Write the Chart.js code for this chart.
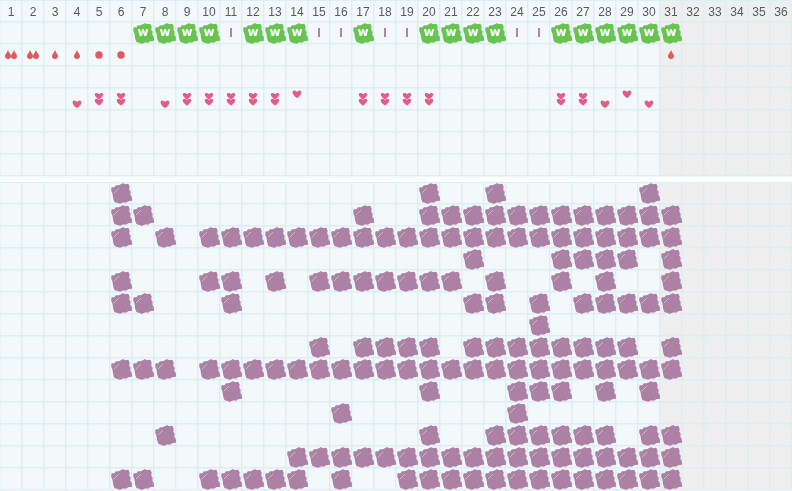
<!DOCTYPE html>
<html>
<head>
<meta charset="utf-8">
<style>
  html, body { margin: 0; padding: 0; background: #fff; }
  canvas { position: absolute; left: 0; }
  #chartTop { top: 0; }
  #chartBottom { top: 182px; }
</style>
<script src="https://cdn.jsdelivr.net/npm/chart.js@4"></script>
</head>
<body>
<canvas id="chartTop" width="792" height="178"></canvas>
<canvas id="chartBottom" width="792" height="309"></canvas>
<script>
//DATA
const days = ['1','2','3','4','5','6','7','8','9','10','11','12','13','14','15','16','17','18','19','20','21','22','23','24','25','26','27','28','29','30','31','32','33','34','35','36'];
const firstGreyDay = '31';

//TOP PANEL, COLUMNS PER SYMBOL
const greenDays = [7,8,9,10,12,13,14,17,20,21,22,23,26,27,28,29,30,31];
const tallyDays = [11,15,16,18,19,24,25];
const oneDropDays = [3,4,31];
const twoDropDays = [1,2];
const roundDays = [5,6];
const heartLowDays = [4,8,28,30];
const heartHighDays = [14,29];
const heartPairDays = [5,6,9,10,11,12,13,17,18,19,20,26,27];

//BOTTOM PANEL, COLUMNS PER ROW
const row0 = [6,20,23,30];
const row1 = [6,7,17,20,21,22,23,24,25,26,27,28,29,30,31];
const row2 = [6,8,10,11,12,13,14,15,16,17,18,19,20,21,22,23,24,25,26,27,28,29,30,31];
const row3 = [22,26,27,28,29,31];
const row4 = [6,10,11,13,15,16,17,18,19,20,21,23,26,28,31];
const row5 = [6,7,11,22,23,25,27,28,29,30,31];
const row6 = [25];
const row7 = [15,17,18,19,20,22,23,24,25,26,27,28,29,31];
const row8 = [6,7,8,10,11,12,13,14,15,16,17,18,19,20,21,22,23,24,25,26,27,28,29,30,31];
const row9 = [11,20,24,25,26,28,30];
const row10 = [16,24];
const row11 = [8,20,23,24,25,26,27,28,30,31];
const row12 = [14,15,16,17,18,19,20,21,22,23,24,25,26,27,28,29,30,31];
const row13 = [6,7,10,11,12,13,14,16,19,20,21,22,23,24,25,26,27,28,29,30,31];
const bottomRows = [row0,row1,row2,row3,row4,row5,row6,row7,row8,row9,row10,row11,row12,row13];

//COLOURS
const gridColor = '#dceff7';
const panelColor = '#f3f8fa';
const greyColor = '#efefef';
const purple = '#ad80a6';
const green = '#69c350';
const red = '#dd5a60';
const pink = '#e55a86';
const tallyColor = '#b5849f';

Chart.defaults.font.family = '"Liberation Sans", Arial, sans-serif';

//SPRITES
function sprite (w, h, draw) {
  const c = document.createElement('canvas');
  c.width = w;
  c.height = h;
  draw(c.getContext('2d'));
  return c;
}

const blobOutline = [[2,6],[5,6],[6,4],[9,4],[11,3],[13,2],[15,3],[18,2.5],[19,5],[18.5,8],[20,10],[19.5,13],[21,15],[21.5,18],[18,18.5],[16,20],[13,19.5],[10,21],[7,20],[5,19.5],[4,17],[3.5,14],[3,11],[2,9]];

function blob (ctx, color) {
  ctx.fillStyle = color;
  ctx.strokeStyle = color;
  ctx.lineWidth = 1.4;
  ctx.lineJoin = 'bevel';
  ctx.beginPath();
  blobOutline.forEach(p => ctx.lineTo(p[0], p[1]));
  ctx.closePath();
  ctx.fill();
  ctx.stroke();
}

const purpleBlob = sprite(24, 24, ctx => {
  ctx.translate(1, 1);
  blob(ctx, purple);
  ctx.strokeStyle = 'rgba(255,255,255,0.4)';
  ctx.lineWidth = 1;
  ctx.beginPath();
  ctx.moveTo(4, 11);
  ctx.lineTo(9, 6);
  ctx.stroke();
});

const greenBlob = sprite(24, 24, ctx => {
  ctx.translate(1, 1);
  blob(ctx, green);
  ctx.fillStyle = '#fff';
  ctx.font = 'bold 12px "DejaVu Sans"';
  ctx.textAlign = 'center';
  ctx.textBaseline = 'middle';
  ctx.fillText('w', 11, 10.5);
});

const tally = sprite(4, 12, ctx => {
  ctx.fillStyle = tallyColor;
  ctx.fillRect(1, 1, 2, 9);
});

function dropPath (ctx, x, y) {
  ctx.beginPath();
  ctx.moveTo(x, y - 5);
  ctx.bezierCurveTo(x + 1, y - 2, x + 3, y - 1, x + 3, y + 1);
  ctx.arc(x, y + 1, 3, 0, Math.PI);
  ctx.bezierCurveTo(x - 3, y - 1, x - 1, y - 2, x, y - 5);
  ctx.fill();
}

const oneDrop = sprite(10, 12, ctx => {
  ctx.fillStyle = red;
  dropPath(ctx, 5, 6);
});

const twoDrops = sprite(16, 12, ctx => {
  ctx.fillStyle = red;
  dropPath(ctx, 5, 6);
  dropPath(ctx, 11, 6);
});

const round = sprite(10, 10, ctx => {
  ctx.fillStyle = red;
  ctx.beginPath();
  ctx.arc(5, 5, 3.7, 0, Math.PI * 2);
  ctx.fill();
});

function heartPath (ctx, x, y) {
  ctx.beginPath();
  ctx.moveTo(x, y + 4);
  ctx.bezierCurveTo(x - 6, y, x - 5, y - 4, x - 2.3, y - 3.5);
  ctx.bezierCurveTo(x - 1, y - 3.4, x, y - 2, x, y - 2);
  ctx.bezierCurveTo(x, y - 2, x + 1, y - 3.4, x + 2.3, y - 3.5);
  ctx.bezierCurveTo(x + 5, y - 4, x + 6, y, x, y + 4);
  ctx.fill();
}

const heart = sprite(12, 10, ctx => {
  ctx.fillStyle = pink;
  heartPath(ctx, 6, 5);
});

const heartPair = sprite(12, 16, ctx => {
  ctx.fillStyle = pink;
  ctx.save();
  ctx.translate(6, 5);
  ctx.scale(0.95, 0.85);
  heartPath(ctx, 0, 0);
  ctx.restore();
  ctx.save();
  ctx.translate(6, 11);
  ctx.scale(0.95, 0.9);
  heartPath(ctx, 0, 0);
  ctx.restore();
});

//HELPERS
function marks (columns, row, style) {
  return {
    data: columns.map(day => ({ x: String(day), y: row })),
    pointStyle: style,
    pointRadius: 3,
    showLine: false,
    clip: false
  };
}

const paperPlugin = {
  id: 'paper',
  beforeDraw (chart) {
    const { ctx, width, scales } = chart;
    const greyStart = scales.x.getPixelForValue(firstGreyDay) - 11;
    ctx.save();
    ctx.fillStyle = panelColor;
    ctx.fillRect(0, 0, greyStart, chart.chartArea.bottom);
    ctx.fillStyle = greyColor;
    ctx.fillRect(greyStart, 0, width - greyStart, chart.chartArea.bottom);
    ctx.restore();
  },
  afterDatasetsDraw (chart) {
    const { ctx, width } = chart;
    ctx.save();
    ctx.strokeStyle = gridColor;
    ctx.beginPath();
    ctx.moveTo(0, 0.5);
    ctx.lineTo(width, 0.5);
    ctx.stroke();
    ctx.restore();
  }
};

function panelOptions (rows, xAxis, bottomPad) {
  return {
    responsive: false,
    animation: false,
    events: [],
    layout: { autoPadding: false, padding: { bottom: bottomPad } },
    plugins: { legend: { display: false }, tooltip: { enabled: false } },
    scales: {
      x: Object.assign({ type: 'category', labels: days, offset: true }, xAxis),
      y: {
        type: 'linear',
        reverse: true,
        min: 0,
        max: rows,
        ticks: { display: false, stepSize: 1 },
        border: { display: false },
        grid: { color: gridColor, lineWidth: 1.5, drawTicks: false }
      }
    }
  };
}

//TOP PANEL
const chartTop = new Chart(document.getElementById('chartTop'), {
  type: 'scatter',
  data: {
    datasets: [
      marks(greenDays, 0.5, greenBlob),
      marks(tallyDays, 0.5, tally),
      marks(twoDropDays, 1.5, twoDrops),
      marks(oneDropDays, 1.5, oneDrop),
      marks(roundDays, 1.5, round),
      marks(heartPairDays, 3.5, heartPair),
      marks(heartLowDays, 3.73, heart),
      marks(heartHighDays, 3.27, heart)
    ]
  },
  options: panelOptions(7, {
    position: 'top',
    afterFit: scale => { scale.height = 22; },
    border: { display: false },
    grid: { offset: true, color: gridColor, lineWidth: 1.5, tickLength: 22 },
    ticks: { color: '#555c60', font: { size: 12 }, padding: -20, maxRotation: 0, autoSkip: false }
  }, 2),
  plugins: [paperPlugin]
});

//BOTTOM PANEL
const chartBottom = new Chart(document.getElementById('chartBottom'), {
  type: 'scatter',
  data: {
    datasets: bottomRows.map((columns, i) => marks(columns, i + 0.5, purpleBlob))
  },
  options: panelOptions(14, {
    border: { display: false },
    grid: { offset: true, color: gridColor, lineWidth: 1.5, drawTicks: false },
    ticks: { display: false, autoSkip: false }
  }, 1),
  plugins: [paperPlugin]
});
</script>
</body>
</html>
